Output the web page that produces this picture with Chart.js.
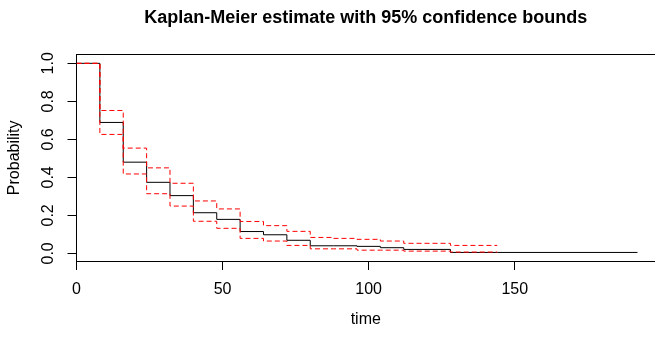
<!DOCTYPE html>
<html>
<head>
<meta charset="utf-8">
<script src="https://cdn.jsdelivr.net/npm/chart.js@4.4.1/dist/chart.umd.min.js"></script>
<style>
  html, body { margin: 0; padding: 0; background: #fff; }
  #wrap { width: 655px; height: 338px; }
</style>
</head>
<body>
<div id="wrap"><canvas id="km" width="655" height="338"></canvas></div>
<script>
// Kaplan-Meier steps (value holds from each time until the next one)
const times = [0, 8, 16, 24, 32, 40, 48, 56, 64, 72, 80, 88, 96, 104, 112, 128, 144, 192];
const survival = [1.0, 0.689, 0.480, 0.374, 0.304, 0.214, 0.179, 0.115, 0.098, 0.069, 0.040, 0.040, 0.037, 0.030, 0.021, 0.005, 0.005, 0.005];

// 95% bounds stop at t = 144
const ciTimes = [0, 8, 16, 24, 32, 40, 48, 56, 64, 72, 80, 88, 96, 104, 112, 128, 144];
const upper = [1.0, 0.752, 0.554, 0.450, 0.369, 0.276, 0.234, 0.168, 0.146, 0.116, 0.084, 0.079, 0.074, 0.065, 0.053, 0.042, 0.042];
const lower = [1.0, 0.626, 0.418, 0.314, 0.249, 0.169, 0.132, 0.079, 0.065, 0.042, 0.024, 0.024, 0.017, 0.017, 0.012, 0.007, 0.007];

const xTicks = [0, 50, 100, 150];
const yTicks = [0, 0.2, 0.4, 0.6, 0.8, 1.0];

const FONT = "'Liberation Sans', Arial, Helvetica, sans-serif";

function toPoints(xs, ys) {
  return xs.map((x, i) => ({ x, y: ys[i] }));
}

// "before" in Chart.js = horizontal first, then the drop (KM style)
function stepLine(label, xs, ys, color, dash, order) {
  return {
    label,
    data: toPoints(xs, ys),
    stepped: "before",
    borderColor: color,
    borderWidth: 1,
    borderDash: dash,
    pointRadius: 0,
    fill: false,
    order
  };
}

const ctx = document.getElementById("km").getContext("2d");

new Chart(ctx, {
  type: "line",
  data: {
    datasets: [
      stepLine("Upper", ciTimes, upper, "#ff0000", [5, 3], 0),
      stepLine("Lower", ciTimes, lower, "#ff0000", [5, 3], 1),
      stepLine("Estimate", times, survival, "#000000", [], 2)
    ]
  },
  options: {
    responsive: false,
    animation: false,
    layout: { padding: 0 },
    scales: {
      x: {
        type: "linear",
        position: "bottom",
        min: 0,
        max: 198,
        afterBuildTicks: (axis) => { axis.ticks = xTicks.map((v) => ({ value: v })); },
        afterFit: (axis) => { axis.height = 77; },
        ticks: {
          color: "#000",
          padding: 10,
          maxRotation: 0,
          font: { family: FONT, size: 16 }
        },
        grid: {
          drawOnChartArea: false,
          drawTicks: true,
          tickLength: 9,
          color: "#000"
        },
        border: { display: true, color: "#000", width: 1 },
        title: {
          display: true,
          text: "time",
          color: "#000",
          font: { family: FONT, size: 16 },
          padding: { top: 0, bottom: 9 }
        }
      },
      x2: {
        type: "linear",
        position: "top",
        afterFit: (axis) => { axis.height = 0; },
        ticks: { display: false },
        grid: { display: false, drawTicks: false },
        border: { display: true, color: "#000", width: 1 }
      },
      y: {
        type: "linear",
        position: "left",
        min: -0.04,
        max: 1.046,
        afterBuildTicks: (axis) => { axis.ticks = yTicks.map((v) => ({ value: v })); },
        afterFit: (axis) => { axis.width = 76.5; },
        ticks: {
          color: "#000",
          padding: 8,
          minRotation: 90,
          maxRotation: 90,
          crossAlign: "center",
          font: { family: FONT, size: 16 },
          callback: (v) => v.toFixed(1)
        },
        grid: {
          drawOnChartArea: false,
          drawTicks: true,
          tickLength: 9,
          color: "#000"
        },
        border: { display: true, color: "#000", width: 1 },
        title: {
          display: true,
          text: "Probability",
          color: "#000",
          font: { family: FONT, size: 16 },
          padding: { top: 5, bottom: 0 }
        }
      }
    },
    plugins: {
      legend: { display: false },
      tooltip: { enabled: false },
      title: {
        display: true,
        text: "Kaplan-Meier estimate with 95% confidence bounds",
        color: "#000",
        fullSize: false,
        font: { family: FONT, size: 18, weight: "bold" },
        padding: { top: 7, bottom: 26 }
      }
    }
  }
});
</script>
</body>
</html>
